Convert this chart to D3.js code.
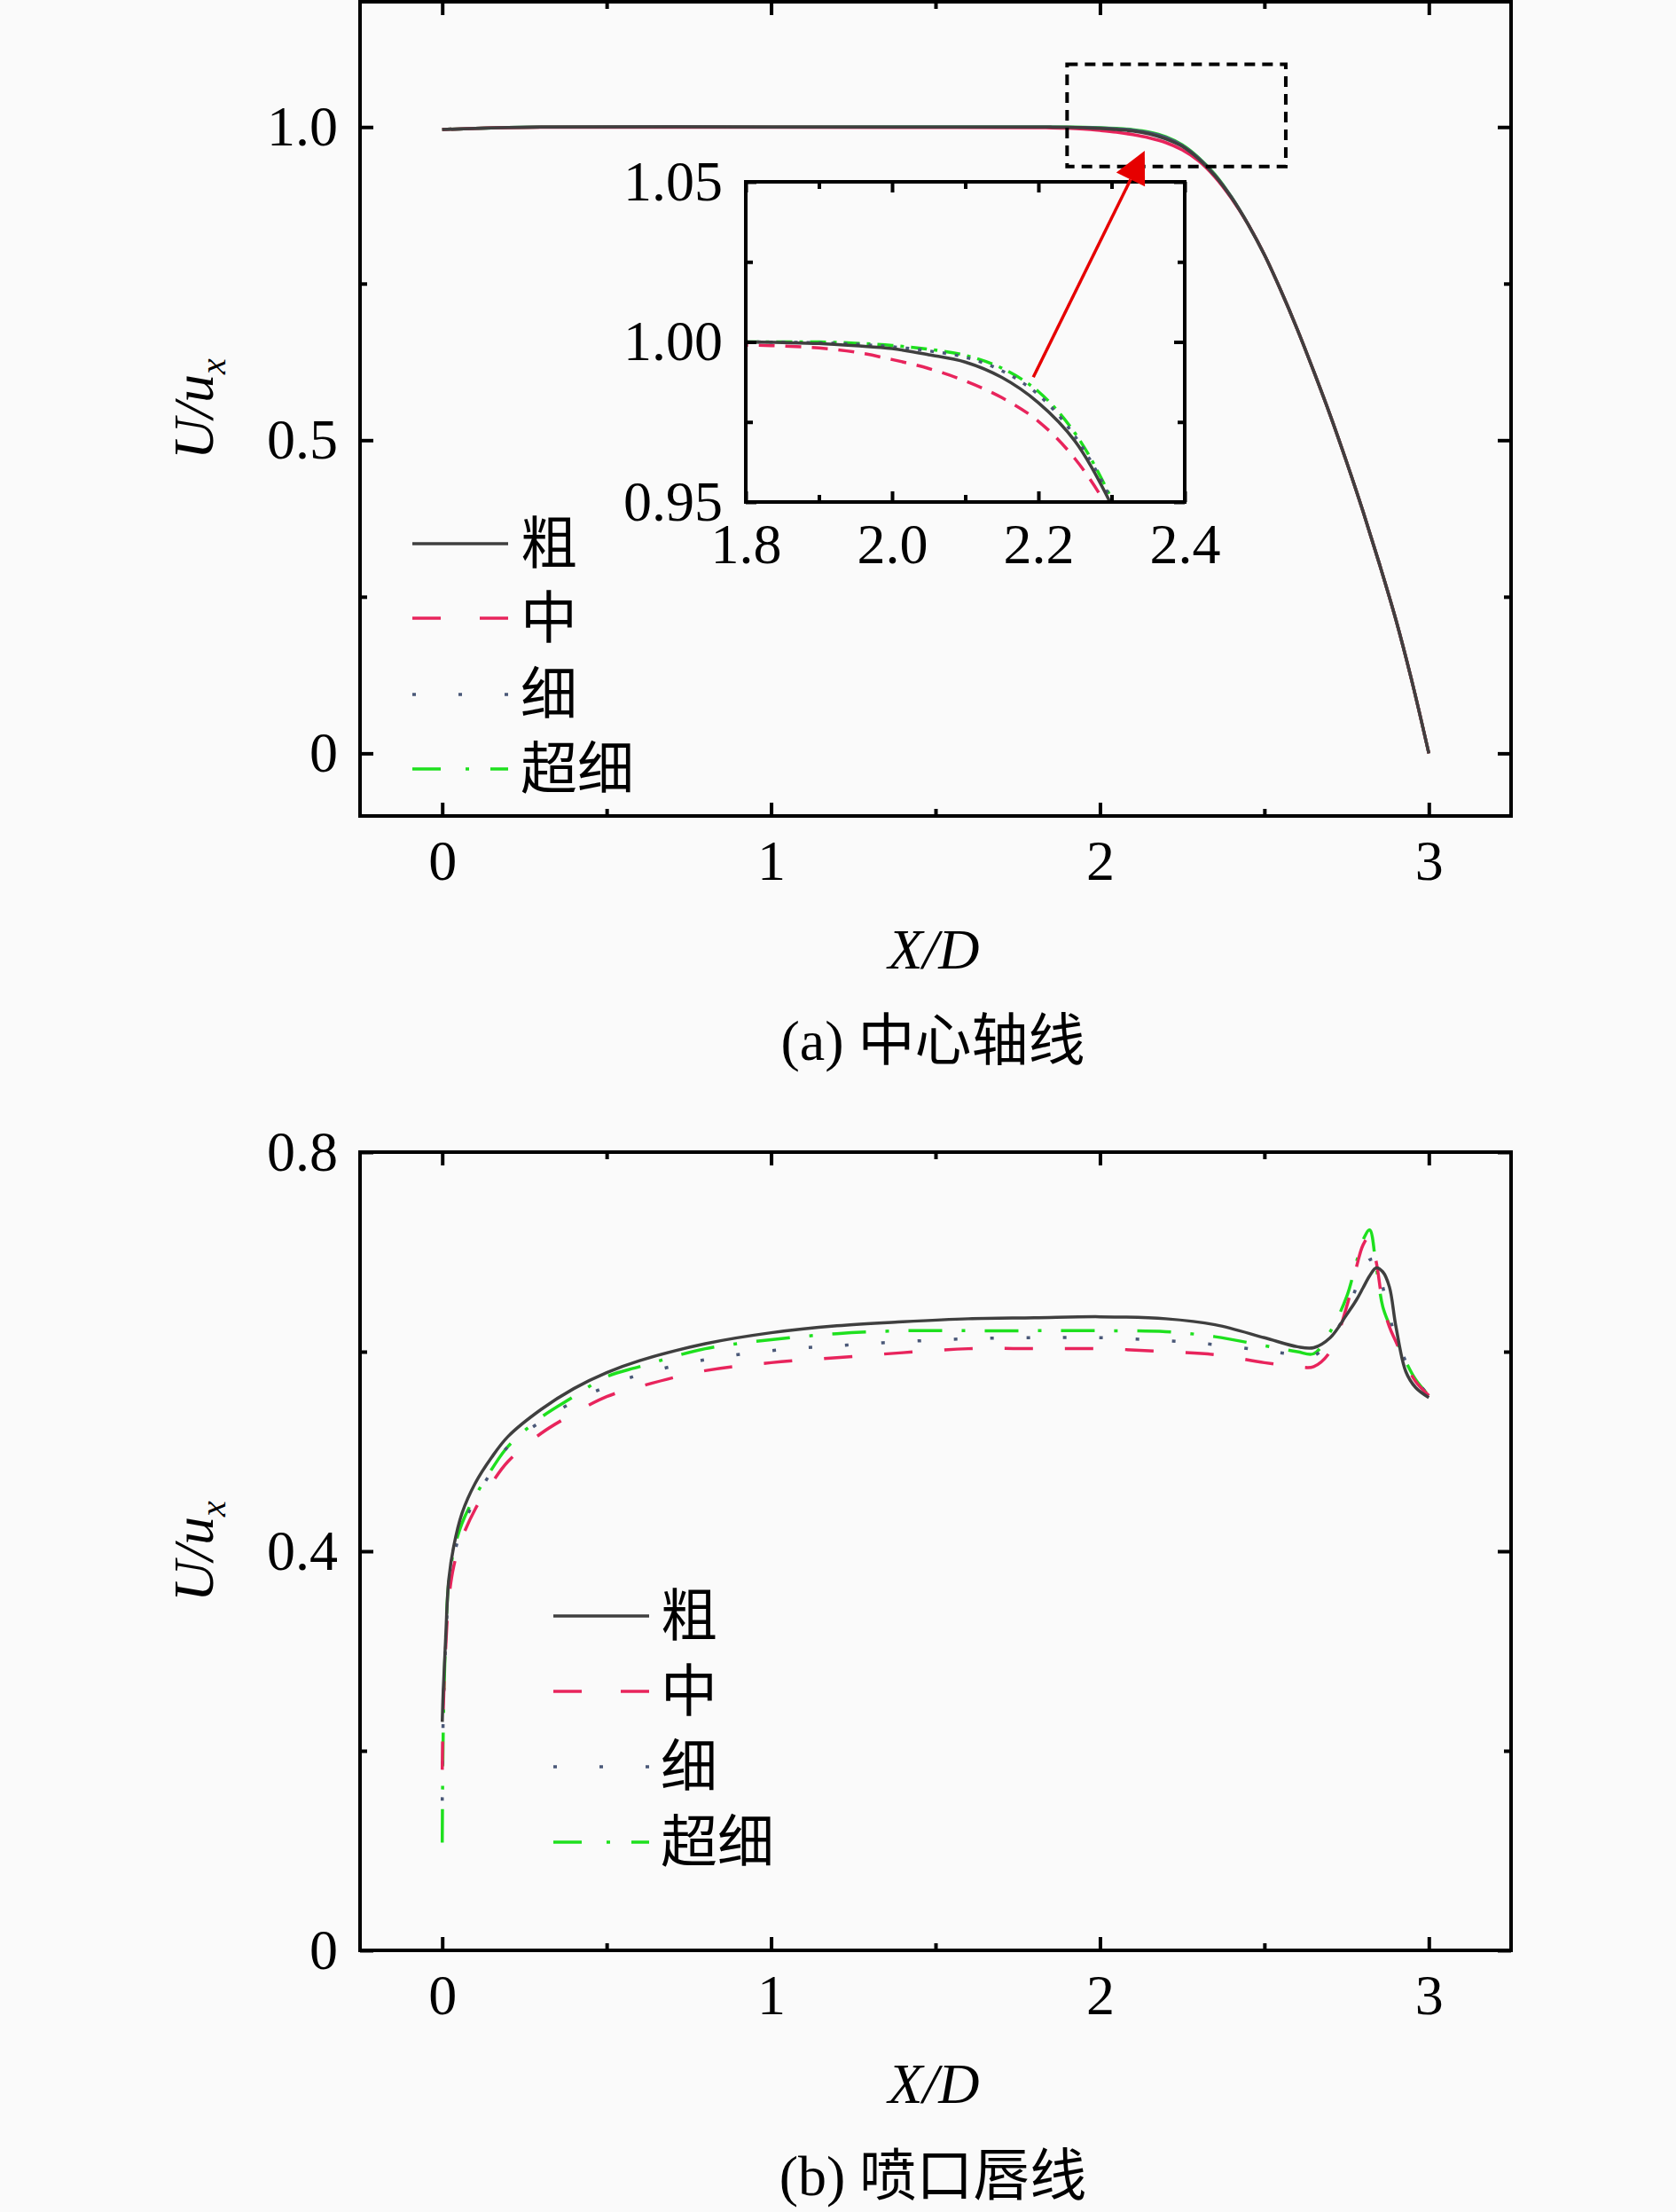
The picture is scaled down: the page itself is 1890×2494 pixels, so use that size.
<!DOCTYPE html>
<html><head><meta charset="utf-8">
<script src="https://cdn.jsdelivr.net/npm/d3@7/dist/d3.min.js"></script>
<style>body{margin:0;background:#fafafa}</style>
</head><body><svg id="c"></svg>
<script>
// ---------------- DATA ----------------
const seriesNames = ["粗", "中", "细", "超细"];
const seriesColors = ["#3f3f3f", "#e8245c", "#4a5878", "#1ee01e"];

// (a) centre axis
const xA = [0, 0.1, 0.3, 1.0, 1.5, 1.8, 1.85, 1.9, 1.95, 2.0, 2.05, 2.1, 2.15, 2.2, 2.25, 2.3, 2.35, 2.4, 2.45, 2.5, 2.55, 2.6, 2.65, 2.7, 2.75, 2.8, 2.85, 2.9, 2.95, 3.0];
const coarseA    = [0.996, 0.998, 1.0, 1.0, 1.0, 1.0, 0.9998, 0.9995, 0.9988, 0.9979, 0.996, 0.9937, 0.9889, 0.981, 0.969, 0.949, 0.922, 0.887, 0.845, 0.796, 0.739, 0.677, 0.61, 0.54, 0.465, 0.386, 0.302, 0.213, 0.112, 0.0];
const mediumA    = [0.996, 0.998, 0.9995, 0.9995, 0.9993, 0.999, 0.9987, 0.9981, 0.9968, 0.9945, 0.9917, 0.9878, 0.9826, 0.9752, 0.9635, 0.946, 0.920, 0.886, 0.845, 0.796, 0.739, 0.677, 0.61, 0.54, 0.465, 0.386, 0.302, 0.213, 0.112, 0.0];
const fineA      = [0.996, 0.998, 1.0, 1.0, 1.0, 1.0, 0.9999, 0.9997, 0.9993, 0.9985, 0.9972, 0.9952, 0.991, 0.9835, 0.9705, 0.9505, 0.923, 0.888, 0.845, 0.796, 0.739, 0.677, 0.61, 0.54, 0.465, 0.386, 0.302, 0.213, 0.112, 0.0];
const superfineA = [0.996, 0.998, 1.0, 1.0, 1.0, 1.0, 1.0, 1.0, 0.9996, 0.9989, 0.9977, 0.9958, 0.9918, 0.9845, 0.9715, 0.951, 0.924, 0.888, 0.845, 0.796, 0.739, 0.677, 0.61, 0.54, 0.465, 0.386, 0.302, 0.213, 0.112, 0.0];

// (b) nozzle lip line
const xB = [0, 0.003, 0.01, 0.02, 0.035, 0.06, 0.1, 0.15, 0.2, 0.3, 0.4, 0.5, 0.6, 0.8, 1.0, 1.2, 1.4, 1.6, 1.8, 2.0, 2.2, 2.35, 2.5, 2.6, 2.65, 2.7, 2.75, 2.78, 2.8, 2.82, 2.84, 2.86, 2.88, 2.9, 2.93, 2.96, 3.0];
const coarseB    = [0.229, 0.26, 0.31, 0.372, 0.405, 0.438, 0.468, 0.494, 0.515, 0.542, 0.563, 0.579, 0.591, 0.608, 0.619, 0.626, 0.630, 0.633, 0.634, 0.635, 0.633, 0.627, 0.614, 0.605, 0.604, 0.614, 0.637, 0.652, 0.664, 0.676, 0.684, 0.68, 0.665, 0.625, 0.58, 0.564, 0.554];
const mediumB    = [0.181, 0.24, 0.30, 0.352, 0.385, 0.413, 0.442, 0.468, 0.49, 0.518, 0.538, 0.555, 0.565, 0.581, 0.589, 0.594, 0.599, 0.603, 0.603, 0.603, 0.600, 0.597, 0.589, 0.585, 0.585, 0.600, 0.645, 0.685, 0.707, 0.716, 0.69, 0.648, 0.625, 0.61, 0.588, 0.57, 0.556];
const fineB      = [0.15, 0.235, 0.305, 0.362, 0.395, 0.423, 0.452, 0.48, 0.505, 0.53, 0.55, 0.565, 0.577, 0.592, 0.601, 0.606, 0.61, 0.613, 0.614, 0.614, 0.611, 0.607, 0.601, 0.597, 0.596, 0.612, 0.64, 0.665, 0.682, 0.692, 0.692, 0.665, 0.635, 0.615, 0.59, 0.572, 0.556];
const superfineB = [0.108, 0.22, 0.31, 0.37, 0.40, 0.428, 0.455, 0.482, 0.505, 0.534, 0.555, 0.575, 0.585, 0.603, 0.612, 0.618, 0.621, 0.621, 0.621, 0.621, 0.620, 0.615, 0.606, 0.600, 0.598, 0.620, 0.655, 0.690, 0.712, 0.722, 0.685, 0.645, 0.627, 0.612, 0.590, 0.572, 0.556];

// ticks
const xMajor = [0, 1, 2, 3], xMinor = [0.5, 1.5, 2.5];
const xLabels = ["0", "1", "2", "3"];
const yMajorA = [0, 0.5, 1.0], yMinorA = [0.25, 0.75], yLabelsA = ["0", "0.5", "1.0"];
const yMajorB = [0, 0.4, 0.8], yMinorB = [0.2, 0.6], yLabelsB = ["0", "0.4", "0.8"];
const insetXMajor = [1.8, 2.0, 2.2, 2.4], insetXMinor = [1.9, 2.1, 2.3], insetXLabels = ["1.8", "2.0", "2.2", "2.4"];
const insetYMajor = [0.95, 1.0, 1.05], insetYMinor = [0.975, 1.025], insetYLabels = ["0.95", "1.00", "1.05"];
const zoomBox = [1.9, 2.565, 0.937, 1.1];         // x0, x1, y0, y1 in panel (a) data units
const arrowFrom = [2.193, 0.989];                  // inset data units
const arrowTo = [2.136, 0.962];                    // panel (a) data units
const captions = ["(a) 中心轴线", "(b) 喷口唇线"];

// ---------------- DRAW ----------------
const FONT = "'Liberation Serif','Times New Roman','Noto Sans CJK SC',serif";
const W = 1890, H = 2494;
const svg = d3.select('#c').attr('width', W).attr('height', H);
svg.append('rect').attr('width', W).attr('height', H).attr('fill', '#fafafa');

const mainDash = [null, "32,36", "4,37", "38,22,4,22"];
const insetDash = [null, "18,12", "4,10", "18,8,4,8"];
const legendDash = [null, "32,44", "4,48", "32,28,4,24"];

function frame(g, x, y, o) {
  const [x0, x1] = x.range(), [y0, y1] = y.range();
  const mk = (axisFn, scale, vals, len, labels, tr, pad) => {
    const ax = axisFn(scale).tickValues(vals).tickSizeInner(-len).tickSizeOuter(0)
      .tickPadding(pad || 0).tickFormat(labels ? (d, i) => labels[i] : () => "");
    const gg = g.append('g').attr('transform', tr).call(ax);
    gg.select('.domain').remove();
    gg.selectAll('line').attr('stroke', '#000').attr('stroke-width', o.tw);
    gg.selectAll('text').attr('font-family', FONT).attr('font-size', o.fs).attr('fill', '#000');
  };
  mk(d3.axisBottom, x, o.xMajor, o.maj, o.xLabels, `translate(0,${y0})`, o.xPad);
  mk(d3.axisBottom, x, o.xMinor, o.min, null, `translate(0,${y0})`);
  mk(d3.axisTop, x, o.xMajor, o.maj, null, `translate(0,${y1})`);
  mk(d3.axisTop, x, o.xMinor, o.min, null, `translate(0,${y1})`);
  mk(d3.axisLeft, y, o.yMajor, o.maj, o.yLabels, `translate(${x0},0)`, o.yPad);
  mk(d3.axisLeft, y, o.yMinor, o.min, null, `translate(${x0},0)`);
  mk(d3.axisRight, y, o.yMajor, o.maj, null, `translate(${x1},0)`);
  mk(d3.axisRight, y, o.yMinor, o.min, null, `translate(${x1},0)`);
  g.append('rect').attr('x', x0).attr('y', y1).attr('width', x1 - x0).attr('height', y0 - y1)
    .attr('fill', 'none').attr('stroke', '#000').attr('stroke-width', o.fw);
}

function drawSeries(g, x, y, xs, list, dashes, sw, clipId) {
  const line = d3.line().x(d => x(d[0])).y(d => y(d[1])).curve(d3.curveCatmullRom.alpha(0.5));
  const gg = g.append('g');
  if (clipId) gg.attr('clip-path', `url(#${clipId})`);
  [3, 2, 1, 0].forEach(i => {
    const pts = xs.map((v, k) => [v, list[i][k]]);
    gg.append('path').attr('d', line(pts)).attr('fill', 'none')
      .attr('stroke', seriesColors[i]).attr('stroke-width', sw)
      .attr('stroke-dasharray', dashes[i]).attr('stroke-linejoin', 'round');
  });
}

function legend(g, lx0, lx1, tx, rows) {
  rows.forEach((ry, i) => {
    g.append('line').attr('x1', lx0).attr('x2', lx1).attr('y1', ry).attr('y2', ry)
      .attr('stroke', seriesColors[i]).attr('stroke-width', 3.5).attr('stroke-dasharray', legendDash[i]);
    g.append('text').attr('x', tx).attr('y', ry).attr('dominant-baseline', 'central')
      .attr('font-family', FONT).attr('font-size', 64).text(seriesNames[i]);
  });
}

function yLabel(g, cx, cy) {
  const t = g.append('text').attr('transform', `translate(${cx},${cy}) rotate(-90)`)
    .attr('text-anchor', 'middle').attr('font-family', FONT).attr('font-size', 64).attr('font-style', 'italic');
  t.append('tspan').text('U/u');
  t.append('tspan').attr('font-size', 40).attr('dy', 14).text('x');
}
function xLabel(g, cx, by) {
  g.append('text').attr('x', cx).attr('y', by).attr('text-anchor', 'middle')
    .attr('font-family', FONT).attr('font-size', 64).attr('font-style', 'italic').text('X/D');
}
function caption(g, cx, by, s) {
  g.append('text').attr('x', cx).attr('y', by).attr('text-anchor', 'middle')
    .attr('font-family', FONT).attr('font-size', 64).text(s);
}

const frameOpt = { xMajor, xMinor, xLabels, maj: 15, min: 8, tw: 4, fw: 4, fs: 64, xPad: 27, yPad: 25 };

// ---------- Panel (a) ----------
const gA = svg.append('g');
const xAs = d3.scaleLinear().domain([-0.25, 3.25]).range([406, 1704]);
const yAs = d3.scaleLinear().domain([-0.1, 1.2]).range([920, 2]);
drawSeries(gA, xAs, yAs, xA, [coarseA, mediumA, fineA, superfineA], [null, null, null, null], 3.5);
frame(gA, xAs, yAs, Object.assign({}, frameOpt, { yMajor: yMajorA, yMinor: yMinorA, yLabels: yLabelsA }));
legend(gA, 465, 573, 587, [613, 697, 783, 867]);
yLabel(gA, 240, 461);
xLabel(gA, 1053, 1092);
caption(gA, 1052, 1195, captions[0]);

// zoom box
gA.append('rect').attr('x', xAs(zoomBox[0])).attr('y', yAs(zoomBox[3]))
  .attr('width', xAs(zoomBox[1]) - xAs(zoomBox[0])).attr('height', yAs(zoomBox[2]) - yAs(zoomBox[3]))
  .attr('fill', 'none').attr('stroke', '#000').attr('stroke-width', 4).attr('stroke-dasharray', '12,8');

// inset
const xI = d3.scaleLinear().domain([1.8, 2.4]).range([841, 1336]);
const yI = d3.scaleLinear().domain([0.95, 1.05]).range([566, 205]);
const gI = svg.append('g');
gI.append('rect').attr('x', 841).attr('y', 205).attr('width', 495).attr('height', 361).attr('fill', '#fafafa');
svg.append('clipPath').attr('id', 'insetClip').append('rect').attr('x', 841).attr('y', 205).attr('width', 495).attr('height', 361);
drawSeries(gI, xI, yI, xA, [coarseA, mediumA, fineA, superfineA], insetDash, 3.5, 'insetClip');
frame(gI, xI, yI, { xMajor: insetXMajor, xMinor: insetXMinor, xLabels: insetXLabels,
  yMajor: insetYMajor, yMinor: insetYMinor, yLabels: insetYLabels,
  maj: 12, min: 8, tw: 4, fw: 4, fs: 64, xPad: 24, yPad: 26 });

// arrow
const ax0 = xI(arrowFrom[0]), ay0 = yI(arrowFrom[1]);
const ax1 = xAs(arrowTo[0]), ay1 = yAs(arrowTo[1]);
const ang = Math.atan2(ay1 - ay0, ax1 - ax0);
const hl = 36, hw = 18;
const bx = ax1 - hl * Math.cos(ang), by = ay1 - hl * Math.sin(ang);
svg.append('line').attr('x1', ax0).attr('y1', ay0).attr('x2', bx).attr('y2', by)
  .attr('stroke', '#e60000').attr('stroke-width', 3.5);
svg.append('polygon').attr('fill', '#e60000').attr('points', [
  [ax1, ay1],
  [bx + hw * Math.sin(ang), by - hw * Math.cos(ang)],
  [bx - hw * Math.sin(ang), by + hw * Math.cos(ang)]
].map(p => p.join(',')).join(' '));

// ---------- Panel (b) ----------
const gB = svg.append('g');
const yBs = d3.scaleLinear().domain([0, 0.8]).range([2199, 1299]);
drawSeries(gB, xAs, yBs, xB, [coarseB, mediumB, fineB, superfineB], mainDash, 3.5);
frame(gB, xAs, yBs, Object.assign({}, frameOpt, { yMajor: yMajorB, yMinor: yMinorB, yLabels: yLabelsB }));
legend(gB, 624, 732, 745, [1822, 1907, 1992, 2077]);
yLabel(gB, 240, 1749);
xLabel(gB, 1053, 2371);
caption(gB, 1052, 2475, captions[1]);
</script></body></html>
